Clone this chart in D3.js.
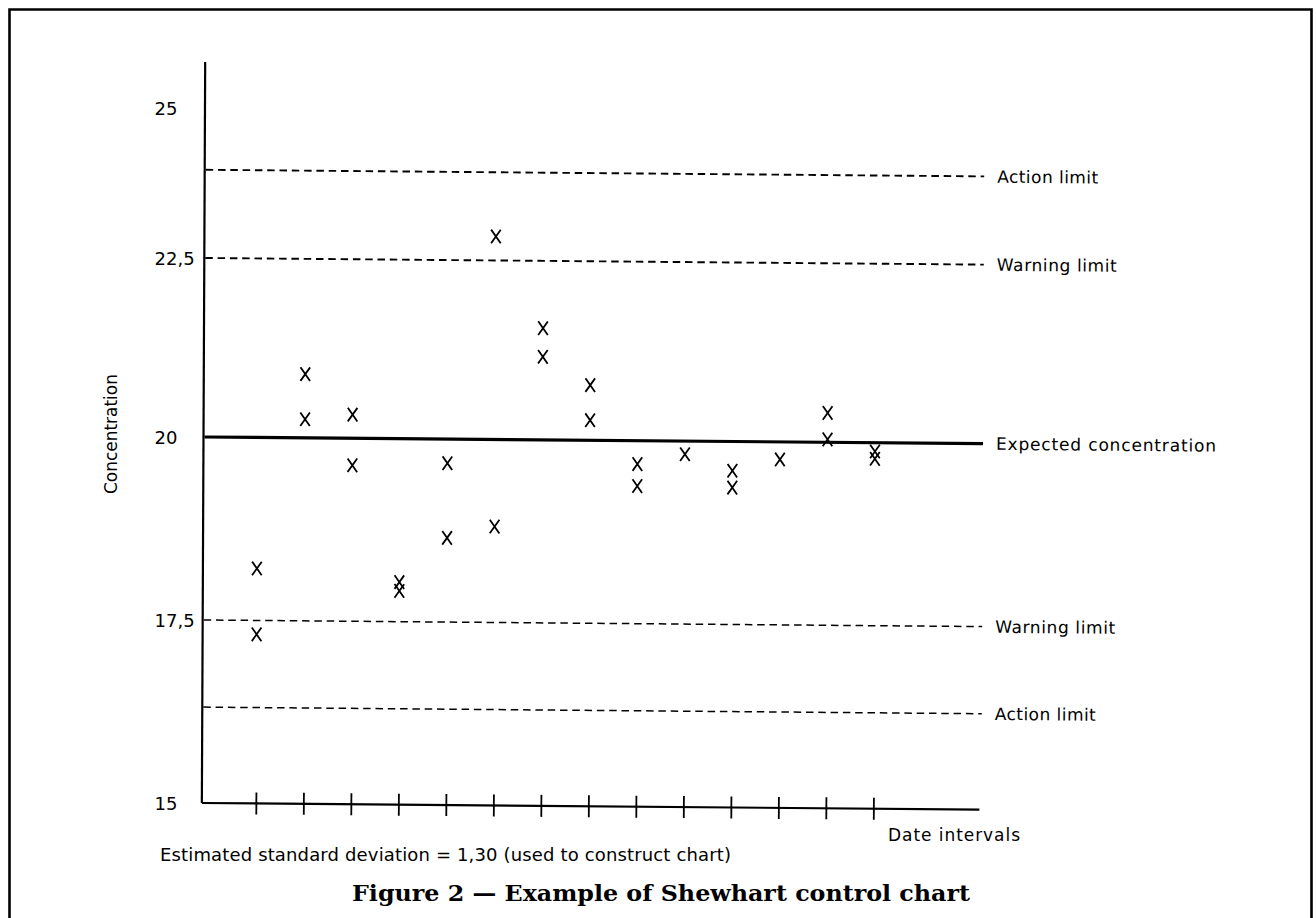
<!DOCTYPE html>
<html><head><meta charset="utf-8">
<script src="https://cdn.jsdelivr.net/npm/d3@7"></script>
<style>body{margin:0;background:#fff}svg{display:block}</style>
</head><body>
<svg id="c" width="1316" height="918"></svg>
<script>
// ---- data ----
const intervals = [1,2,3,4,5,6,7,8,9,10,11,12,13,14];
const obsFirst  = [18.21, 20.89, 20.33, 18.04, 19.67, 22.90, 21.56, 20.77, 19.68, 19.82, 19.60, 19.76, 20.41, 19.88];
const obsSecond = [17.31, 20.26, 19.63, 17.92, 18.65, 18.81, 21.16, 20.28, 19.38, null,  19.37, null,  20.04, 19.78];
const yTicks = [15, 17.5, 20, 22.5, 25];
const limitValues = [23.97, 22.5, 20, 17.5, 16.31];
const limitLabels = ["Action limit", "Warning limit", "Expected concentration", "Warning limit", "Action limit"];
const yTitle = "Concentration";
const xTitle = "Date intervals";
const note = "Estimated standard deviation = 1,30 (used to construct chart)";
const caption = "Figure 2 \u2014 Example of Shewhart control chart";

const svg = d3.select("#c");
const FONT = "'DejaVu Sans', sans-serif";

// frame
svg.append("path").attr("d", "M9.5,918V9.5H1311.5V918")
  .attr("fill", "none").attr("stroke", "#000").attr("stroke-width", 2.6);

// scales (hand-drawn original: polylinear y)
const y = d3.scaleLinear().domain(yTicks).range([803, 620, 437, 258, 108]);
const x = d3.scaleLinear().domain([1, 14]).range([257.5, 875]);
const axisX = 203.5, axisTop = 62, axisRight = 981, lineRight = 983;

// y tick labels (unskewed)
const ya = svg.append("g").attr("transform", `translate(${axisX},0)`)
  .call(d3.axisLeft(y).tickValues(yTicks).tickSize(0).tickFormat(d => String(d).replace(".", ",")));
ya.select(".domain").remove();
ya.selectAll("text").attr("x", -49).attr("dy", "0.36em").attr("text-anchor", "start")
  .attr("font-family", FONT).attr("font-size", 18).attr("fill", "#000");

// plot group with slight scan skew
const g = svg.append("g").attr("transform", "matrix(1,0.0085,-0.0045,1,1.9665,-1.7425)");

// axes lines
g.append("line").attr("x1", axisX).attr("x2", axisX).attr("y1", axisTop).attr("y2", y(15))
  .attr("stroke", "#000").attr("stroke-width", 2.2);
g.append("line").attr("x1", axisX).attr("x2", axisRight).attr("y1", y(15)).attr("y2", y(15))
  .attr("stroke", "#000").attr("stroke-width", 2.2);

// x ticks crossing the axis
const xa = g.append("g").attr("transform", `translate(0,${y(15)})`)
  .call(d3.axisBottom(x).tickValues(intervals).tickSize(11).tickFormat(""));
xa.select(".domain").remove();
xa.selectAll(".tick line").attr("y1", -11).attr("y2", 11).attr("stroke", "#000").attr("stroke-width", 1.8);

// limit lines
const labelLen = [101, 120, 220, 120, 101];
limitValues.forEach((v, i) => {
  const ln = g.append("line").attr("x1", axisX + 1).attr("x2", lineRight)
    .attr("y1", y(v)).attr("y2", y(v)).attr("stroke", "#000");
  if (i === 2) ln.attr("stroke-width", 3.2);
  else ln.attr("stroke-width", i < 2 ? 1.9 : 1.5).attr("stroke-dasharray", "7.5,4.8");
  g.append("text").attr("x", 996).attr("y", y(v)).attr("dy", "0.36em")
    .attr("font-family", FONT).attr("font-size", 17)
    .attr("textLength", labelLen[i]).text(limitLabels[i]);
});

// observations
const pts = [];
intervals.forEach((d, i) => {
  if (obsFirst[i] != null) pts.push([d, obsFirst[i]]);
  if (obsSecond[i] != null) pts.push([d, obsSecond[i]]);
});
g.selectAll("path.obs").data(pts).join("path").attr("class", "obs")
  .attr("transform", d => `translate(${x(d[0])},${y(d[1])})`)
  .attr("d", "M-4.8,-6.8L4.8,6.8M4.8,-6.8L-4.8,6.8")
  .attr("fill", "none").attr("stroke", "#000").attr("stroke-width", 1.8);

// titles
svg.append("text").attr("transform", "translate(111,434) rotate(-90)")
  .attr("text-anchor", "middle").attr("dy", "0.36em")
  .attr("font-family", FONT).attr("font-size", 17).attr("textLength", 120).text(yTitle);
svg.append("text").attr("x", 888).attr("y", 841)
  .attr("font-family", FONT).attr("font-size", 17).attr("textLength", 132).text(xTitle);
svg.append("text").attr("x", 160).attr("y", 861)
  .attr("font-family", FONT).attr("font-size", 18).attr("textLength", 571).text(note);
svg.append("text").attr("x", 352).attr("y", 901)
  .attr("font-family", "'DejaVu Serif', serif").attr("font-weight", "bold").attr("font-size", 22)
  .attr("textLength", 618).attr("lengthAdjust", "spacingAndGlyphs").text(caption);
</script>
</body></html>
